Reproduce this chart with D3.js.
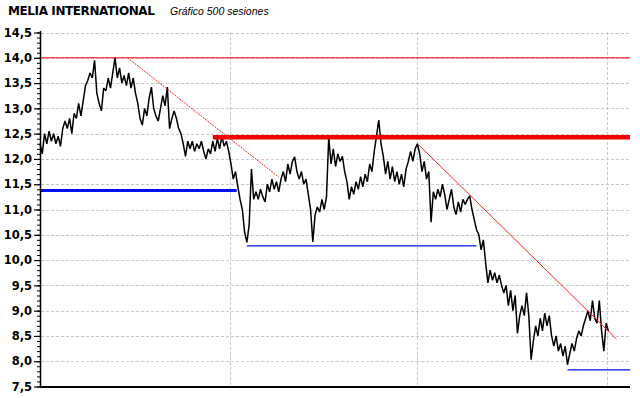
<!DOCTYPE html>
<html>
<head>
<meta charset="utf-8">
<script src="https://cdn.jsdelivr.net/npm/d3@7"></script>
<style>
  html, body { margin: 0; padding: 0; background: #fff; }
  svg { display: block; }
</style>
</head>
<body>
<svg id="chart" width="640" height="398"></svg>
<script>
// Closing prices, one every 2 sessions (session = 2*i)
const prices = [
  12.3, 12.1, 12.5, 12.3, 12.55, 12.35, 12.5, 12.3, 12.45, 12.25,
  12.6, 12.75, 12.6, 12.8, 12.5, 12.9, 12.8, 13.1, 12.85, 13.15,
  13.45, 13.55, 13.7, 13.6, 13.95, 13.3, 13.1, 12.95, 13.4, 13.35,
  13.6, 13.4, 13.7, 14.0, 13.6, 13.8, 13.5, 13.65, 13.45, 13.7,
  13.4, 13.6, 13.3, 13.1, 12.8, 12.67, 13.0, 12.85, 13.2, 13.42,
  13.0, 12.85, 12.75, 13.0, 13.25, 13.05, 13.42, 12.6, 12.8, 12.95,
  12.8, 12.6, 12.5, 12.3, 12.05, 12.35, 12.2, 12.35, 12.15, 12.3,
  12.2, 12.35, 12.15, 12.0, 12.2, 12.1, 12.35, 12.15, 12.4, 12.2,
  12.45, 12.25, 12.35, 12.15, 11.9, 11.6, 11.75, 11.45, 11.2, 11.0,
  10.55, 10.35, 10.7, 11.8, 11.2, 11.35, 11.2, 11.4, 11.25, 11.15,
  11.5, 11.35, 11.6, 11.4, 11.55, 11.35, 11.6, 11.75, 11.55, 11.9,
  11.7, 11.95, 12.04, 11.75, 11.6, 11.75, 11.5, 11.6, 11.3, 11.0,
  10.36, 10.9, 11.05, 10.95, 11.2, 11.0, 11.25, 12.43, 11.9, 12.2,
  11.85, 12.1, 11.95, 12.05, 11.75, 11.55, 11.2, 11.45, 11.3, 11.55,
  11.4, 11.65, 11.45, 11.7, 11.55, 11.9, 11.75, 12.15, 12.45, 12.77,
  12.3, 12.05, 11.7, 11.95, 11.6, 11.85, 11.55, 11.75, 11.5, 11.7,
  11.45, 11.8, 11.95, 12.15, 11.95, 12.2, 12.3, 12.1, 11.75, 11.95,
  11.6, 11.75, 10.75, 11.35, 11.2, 11.4, 11.25, 11.5, 11.3, 11.0,
  11.2, 11.4, 11.05, 10.9, 11.15, 10.95, 11.2, 11.1, 11.2, 11.27,
  11.0, 10.8, 10.6, 10.5, 10.2, 10.4, 9.95, 9.55, 9.8, 9.6,
  9.75, 9.55, 9.7, 9.5, 9.35, 9.5, 9.1, 9.4, 9.0, 9.3,
  8.55, 8.9, 9.1, 8.9, 9.35, 8.9, 8.03, 8.4, 8.7, 8.5,
  8.85, 8.6, 8.95, 8.7, 8.9, 8.5, 8.3, 8.5, 8.2, 8.35,
  8.1, 8.3, 7.93, 8.15, 8.35, 8.2, 8.45, 8.6, 8.5, 8.7,
  8.85, 9.0, 8.8, 9.2, 8.85, 8.75, 9.2, 8.6, 8.2, 8.75,
  8.6
];
const sessionStep = 2;

// y axis ticks
const majorTicks = d3.range(7.5, 14.51, 0.5);
const minorTicks = d3.range(7.5, 14.51, 0.1);
const gridValues = d3.range(8.0, 14.51, 0.5);
// vertical grid at these sessions
const gridSessions = [167, 332, 499];

// support / resistance lines: [session0, value0, session1, value1]
const hLinesRed = [
  { s0: 0, s1: 519, v: 14.0, w: 1 },
  { s0: 152, s1: 519, v: 12.43, w: 4.5 }
];
const hLinesBlue = [
  { s0: 0, s1: 173, v: 11.377, w: 3 },
  { s0: 182, s1: 384, v: 10.28, w: 1.2 },
  { s0: 464, s1: 519, v: 7.83, w: 1.2 }
];
const trendLines = [
  { s0: 77, v0: 14.0, s1: 210, v1: 11.64, dash: '2,1' },
  { s0: 333, v0: 12.28, s1: 507, v1: 8.44, dash: null }
];

const svg = d3.select('#chart');

const x = d3.scaleLinear().domain([0, 519]).range([40, 630]);
const y = d3.scaleLinear().domain([7.5, 14.5]).range([386.5, 32.5]);

// title
svg.append('text')
  .attr('x', 8).attr('y', 15)
  .attr('font-family', 'DejaVu Sans, Verdana, sans-serif')
  .attr('font-weight', 'bold')
  .attr('font-size', 12)
  .attr('letter-spacing', -0.4)
  .attr('fill', '#000')
  .text('MELIA INTERNATIONAL');

svg.append('text')
  .attr('x', 170).attr('y', 15)
  .attr('font-family', 'Liberation Sans, Arial, sans-serif')
  .attr('font-style', 'italic')
  .attr('font-size', 10.5)
  .attr('fill', '#000')
  .text('Gráfico 500 sesiones');

// grid
svg.append('g').selectAll('line')
  .data(gridValues)
  .enter().append('line')
  .attr('x1', 41).attr('x2', 629)
  .attr('y1', d => Math.round(y(d)) + 0.5)
  .attr('y2', d => Math.round(y(d)) + 0.5)
  .attr('stroke', (d, i) => i % 2 ? '#c6c6c6' : '#d4c4d4')
  .attr('stroke-width', 1)
  .attr('stroke-dasharray', '3,2');

svg.append('g').selectAll('line')
  .data(gridSessions)
  .enter().append('line')
  .attr('x1', d => Math.round(x(d)) + 0.5)
  .attr('x2', d => Math.round(x(d)) + 0.5)
  .attr('y1', 32).attr('y2', 386)
  .attr('stroke', '#c8c8d4')
  .attr('stroke-width', 1)
  .attr('stroke-dasharray', '3,2');

// price line
const line = d3.line()
  .x((d, i) => x(i * sessionStep))
  .y(d => y(d));

// blue levels
svg.append('g').selectAll('line')
  .data(hLinesBlue)
  .enter().append('line')
  .attr('x1', d => x(d.s0)).attr('x2', d => x(d.s1))
  .attr('y1', d => y(d.v)).attr('y2', d => y(d.v))
  .attr('stroke', '#0010f0')
  .attr('stroke-width', d => d.w);

svg.append('path')
  .datum(prices)
  .attr('d', line)
  .attr('fill', 'none')
  .attr('stroke', '#000')
  .attr('stroke-width', 1.5)
  .attr('stroke-linejoin', 'miter')
  .attr('stroke-miterlimit', 2);

// red levels
svg.append('g').selectAll('line')
  .data(hLinesRed)
  .enter().append('line')
  .attr('x1', d => x(d.s0)).attr('x2', d => x(d.s1))
  .attr('y1', d => y(d.v)).attr('y2', d => y(d.v))
  .attr('stroke', '#f00000')
  .attr('stroke-width', d => d.w);

// trend lines
svg.append('g').selectAll('line')
  .data(trendLines)
  .enter().append('line')
  .attr('x1', d => x(d.s0)).attr('y1', d => y(d.v0))
  .attr('x2', d => x(d.s1)).attr('y2', d => y(d.v1))
  .attr('stroke', '#ff2020')
  .attr('stroke-width', 1)
  .attr('stroke-dasharray', d => d.dash);

// y axis: minor ticks, then labelled major ticks
const fmt = d => d3.format('.1f')(d).replace('.', ',');

svg.append('g')
  .attr('transform', 'translate(40,0)')
  .call(d3.axisLeft(y).tickValues(minorTicks).tickSize(3).tickFormat(''))
  .call(g => g.select('.domain').remove())
  .call(g => g.selectAll('line').attr('stroke', '#000'));

const yAxis = svg.append('g')
  .attr('transform', 'translate(40,0)')
  .call(d3.axisLeft(y).tickValues(majorTicks).tickSize(6).tickPadding(2).tickFormat(fmt));
yAxis.select('.domain').remove();
yAxis.selectAll('text')
  .attr('font-family', 'DejaVu Sans, Verdana, sans-serif')
  .attr('font-weight', 'bold')
  .attr('font-size', 11.5)
  .attr('fill', '#000');
yAxis.selectAll('line').attr('stroke', '#000').attr('stroke-width', 1.2);

// axis lines
svg.append('line')
  .attr('x1', 40.5).attr('x2', 40.5)
  .attr('y1', 31).attr('y2', 387)
  .attr('stroke', '#000').attr('stroke-width', 1.5);
svg.append('line')
  .attr('x1', 40).attr('x2', 630)
  .attr('y1', 387).attr('y2', 387)
  .attr('stroke', '#000').attr('stroke-width', 2);
</script>
</body>
</html>
